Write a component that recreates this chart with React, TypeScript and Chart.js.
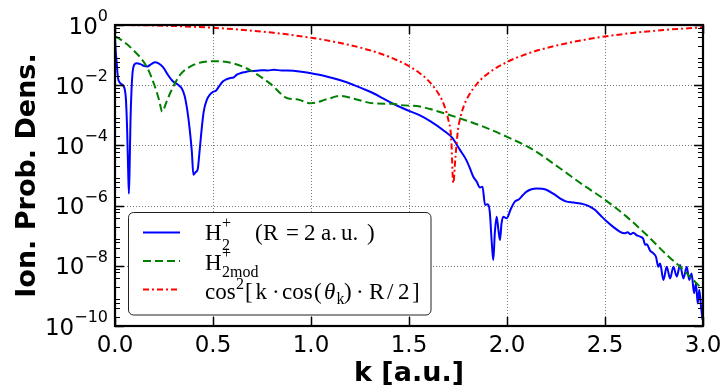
import React, { useEffect, useRef } from 'react';
import { Chart, registerables } from 'chart.js';

Chart.register(...registerables);

// ---- data ----
const kBlue = [
  0.000, 0.004, 0.008, 0.015, 0.025, 0.040, 0.050, 0.056, 0.062, 0.067,
  0.071, 0.075, 0.079, 0.084, 0.090, 0.098, 0.110, 0.130, 0.150, 0.165,
  0.185, 0.205, 0.220, 0.245, 0.270, 0.295, 0.320, 0.340, 0.355, 0.368,
  0.380, 0.392, 0.400, 0.412, 0.422, 0.430, 0.440, 0.452, 0.468, 0.485,
  0.500, 0.515, 0.530, 0.550, 0.570, 0.590, 0.605, 0.620, 0.640, 0.660,
  0.690, 0.720, 0.750, 0.780, 0.810, 0.850, 0.880, 0.920, 0.960, 1.000,
  1.060, 1.114, 1.170, 1.216, 1.270, 1.318, 1.370, 1.420, 1.454, 1.500,
  1.556, 1.610, 1.675, 1.720, 1.760, 1.790, 1.810, 1.828, 1.845, 1.862,
  1.875, 1.888, 1.900, 1.912, 1.922, 1.930, 1.938, 1.947, 1.956, 1.964,
  1.972, 1.981, 1.998, 2.020, 2.040, 2.060, 2.080, 2.100, 2.125, 2.152,
  2.180, 2.203, 2.240, 2.270, 2.300, 2.340, 2.389, 2.420, 2.450, 2.480,
  2.508, 2.540, 2.577, 2.600, 2.615, 2.630, 2.645, 2.660, 2.679, 2.695,
  2.705, 2.713, 2.730, 2.747, 2.760, 2.772, 2.781, 2.798, 2.815, 2.832,
  2.849, 2.866, 2.883, 2.900, 2.917, 2.930, 2.942, 2.954, 2.964, 2.973,
  2.981, 2.990, 2.998,
];
const pBlue = [
  0.40, 0.126, 0.063, 0.018, 0.012, 0.010, 0.0071, 0.0032, 3.2e-4, 1.6e-5,
  2.5e-6, 2.5e-5, 6.3e-4, 0.0063, 0.028, 0.048, 0.054, 0.050, 0.043, 0.042,
  0.050, 0.058, 0.054, 0.040, 0.022, 0.0135, 0.0105, 0.0079, 0.0045, 0.0016,
  4.0e-4, 6.3e-5, 1.05e-5, 1.3e-5, 1.6e-5, 5.0e-5, 2.5e-4, 0.00126, 0.0032, 0.005,
  0.006, 0.0066, 0.0089, 0.0132, 0.0158, 0.0174, 0.018, 0.022, 0.025, 0.027,
  0.0295, 0.030, 0.0316, 0.031, 0.0324, 0.031, 0.031, 0.0295, 0.0275, 0.025,
  0.021, 0.017, 0.0132, 0.0102, 0.0074, 0.0054, 0.00355, 0.0024, 0.0019, 0.0014,
  0.001, 6.3e-4, 3.2e-4, 1.8e-4, 7.1e-5, 3.5e-5, 1.8e-5, 9.1e-6, 6.3e-6, 4.0e-6,
  4.2e-6, 1.05e-6, 1.1e-6, 6.3e-7, 6.3e-8, 1.55e-8, 1.26e-7, 4.3e-7, 1.6e-7, 7.2e-8,
  2.5e-7, 4.3e-7, 3.8e-7, 7.9e-7, 1.35e-6, 1.6e-6, 2.2e-6, 2.9e-6, 3.5e-6, 3.7e-6,
  3.6e-6, 3.3e-6, 2.4e-6, 1.74e-6, 1.38e-6, 1.26e-6, 1.12e-6, 9.5e-7, 7.1e-7, 4.5e-7,
  3.0e-7, 2.0e-7, 1.35e-7, 1.2e-7, 1.3e-7, 1.12e-7, 1.26e-7, 1.05e-7, 9.3e-8, 7.9e-8,
  5.0e-8, 5.2e-8, 3.2e-8, 2.6e-8, 2.0e-8, 9.3e-9, 1.2e-8, 3.4e-9, 9.3e-9, 3.8e-9,
  9.3e-9, 4.4e-9, 1.07e-8, 3.8e-9, 9.3e-9, 3.4e-9, 5.6e-9, 1.23e-9, 2.6e-9, 5.6e-10,
  1.6e-9, 4.4e-10, 1.6e-10,
];

const kGreen = [
  0.000, 0.020, 0.093, 0.162, 0.204, 0.225, 0.241, 0.260, 0.281, 0.332,
  0.400, 0.450, 0.500, 0.600, 0.689, 0.790, 0.884, 0.927, 1.000, 1.080,
  1.148, 1.216, 1.318, 1.420, 1.454, 1.556, 1.624, 1.760, 1.879, 1.998,
  2.134, 2.270, 2.389, 2.490, 2.610, 2.713, 2.815, 2.883, 2.950, 3.000,
];
const pGreen = [
  0.42, 0.36, 0.148, 0.041, 0.0089, 0.0032, 0.00132, 0.0025, 0.0054, 0.022,
  0.047, 0.059, 0.063, 0.054, 0.0316, 0.0115, 0.0036, 0.0034, 0.0025, 0.0034,
  0.0044, 0.0036, 0.0025, 0.0024, 0.0022, 0.00195, 0.0015, 7.9e-4, 4.2e-4, 1.95e-4,
  7.1e-5, 1.74e-5, 4.8e-6, 1.74e-6, 4.3e-7, 1.05e-7, 2.3e-8, 9.3e-9, 3.4e-9, 1.6e-9,
];

const kRed = [
  0.0, 0.2, 0.4, 0.6, 0.8, 1.0, 1.1, 1.2, 1.3, 1.4,
  1.5, 1.55, 1.6, 1.65, 1.68, 1.70, 1.715, 1.726, 1.737, 1.75,
  1.76, 1.78, 1.8, 1.85, 1.9, 2.0, 2.1, 2.2, 2.4, 2.6,
  2.8, 3.0,
];
const pRed = [
  1.0, 0.967, 0.874, 0.731, 0.559, 0.378, 0.293, 0.214, 0.145, 0.087,
  0.043, 0.0264, 0.0139, 0.0053, 0.0021, 7.4e-4, 1.85e-4, 5.6e-6, 4.1e-5, 3.3e-4,
  7.4e-4, 2.06e-3, 4.0e-3, 0.0118, 0.0237, 0.059, 0.1087, 0.171, 0.327, 0.506,
  0.682, 0.835,
];

const xTickValues = [0, 0.5, 1.0, 1.5, 2.0, 2.5, 3.0];
const xTickLabels = ['0.0', '0.5', '1.0', '1.5', '2.0', '2.5', '3.0'];
const yTickExponents = [0, -2, -4, -6, -8, -10];
const yTickExpLabels = ['0', '\u22122', '\u22124', '\u22126', '\u22128', '\u221210'];
const yMinorMultipliers = [2, 4, 6, 8];

const xTitle = 'k [a.u.]';
const yTitle = 'Ion. Prob. Dens.';

const BLUE = '#0000ff';
const GREEN = '#008000';
const RED = '#ff0000';
const SERIF = '"Liberation Serif", "DejaVu Serif", serif';
const SANS = '"DejaVu Sans", sans-serif';

type Piece = { t: string; x: number; y: number; s: number; it?: boolean };

const legendRows: { color: string; dash: number[]; y: number; pieces: Piece[] }[] = [
  {
    color: BLUE, dash: [], y: 232.5,
    pieces: [
      { t: 'H', x: 205, y: 239.5, s: 23 },
      { t: '2', x: 222, y: 250, s: 16 },
      { t: '+', x: 222, y: 228, s: 16 },
      { t: '(', x: 255, y: 239.5, s: 23 },
      { t: 'R', x: 263, y: 239.5, s: 23 },
      { t: '=', x: 286, y: 239.5, s: 23 },
      { t: '2', x: 304, y: 239.5, s: 23 },
      { t: 'a.', x: 321, y: 239.5, s: 23 },
      { t: 'u.', x: 341, y: 239.5, s: 23 },
      { t: ')', x: 367, y: 239.5, s: 23 },
    ],
  },
  {
    color: GREEN, dash: [8, 4], y: 261,
    pieces: [
      { t: 'H', x: 205, y: 269.5, s: 23 },
      { t: '2mod', x: 222, y: 277, s: 16 },
      { t: '+', x: 222, y: 258, s: 16 },
    ],
  },
  {
    color: RED, dash: [6, 3, 2, 3], y: 289.5,
    pieces: [
      { t: 'cos', x: 205, y: 299, s: 23 },
      { t: '2', x: 236, y: 289, s: 16 },
      { t: '[', x: 245, y: 299, s: 23 },
      { t: 'k', x: 255.5, y: 299, s: 23 },
      { t: '\u00b7', x: 272, y: 299, s: 23 },
      { t: 'cos', x: 282, y: 299, s: 23 },
      { t: '(', x: 314, y: 299, s: 23 },
      { t: '\u03b8', x: 324, y: 299, s: 23, it: true },
      { t: 'k', x: 336.5, y: 304, s: 16 },
      { t: ')', x: 344, y: 299, s: 23 },
      { t: '\u00b7', x: 356, y: 299, s: 23 },
      { t: 'R', x: 369, y: 299, s: 23 },
      { t: '/', x: 387, y: 299, s: 23 },
      { t: '2', x: 398, y: 299, s: 23 },
      { t: ']', x: 412, y: 299, s: 23 },
    ],
  },
];

const decoPlugin = {
  id: 'deco',
  beforeDatasetsDraw(chart: any) {
    const { ctx, chartArea: a, scales } = chart;
    const xs = scales.x;
    const ys = scales.y;
    ctx.save();
    ctx.strokeStyle = '#7a7a7a';
    ctx.lineWidth = 1;
    ctx.setLineDash([1, 2]);
    for (const v of xTickValues) {
      if (v <= 0 || v >= 3) continue;
      const px = Math.round(xs.getPixelForValue(v)) + 0.5;
      ctx.beginPath();
      ctx.moveTo(px, a.top);
      ctx.lineTo(px, a.bottom);
      ctx.stroke();
    }
    for (const e of yTickExponents) {
      if (e === 0 || e === -10) continue;
      const py = Math.round(ys.getPixelForValue(Math.pow(10, e))) + 0.5;
      ctx.beginPath();
      ctx.moveTo(a.left, py);
      ctx.lineTo(a.right, py);
      ctx.stroke();
    }
    ctx.restore();
  },
  afterDatasetsDraw(chart: any) {
    const { ctx, chartArea: a, scales } = chart;
    const xs = scales.x;
    const ys = scales.y;
    ctx.save();
    ctx.setLineDash([]);
    ctx.strokeStyle = '#000';

    // minor y ticks
    ctx.lineWidth = 1;
    for (let e = -10; e < 0; e++) {
      for (const m of yMinorMultipliers) {
        const py = Math.round(ys.getPixelForValue(m * Math.pow(10, e))) + 0.5;
        ctx.beginPath();
        ctx.moveTo(a.left, py);
        ctx.lineTo(a.left + 5, py);
        ctx.moveTo(a.right, py);
        ctx.lineTo(a.right - 5, py);
        ctx.stroke();
      }
    }
    // major y ticks
    ctx.lineWidth = 1.5;
    for (const e of yTickExponents) {
      const py = Math.round(ys.getPixelForValue(Math.pow(10, e))) + 0.5;
      ctx.beginPath();
      ctx.moveTo(a.left, py);
      ctx.lineTo(a.left + 9, py);
      ctx.moveTo(a.right, py);
      ctx.lineTo(a.right - 9, py);
      ctx.stroke();
    }
    // major x ticks
    for (const v of xTickValues) {
      const px = Math.round(xs.getPixelForValue(v)) + 0.5;
      ctx.beginPath();
      ctx.moveTo(px, a.bottom);
      ctx.lineTo(px, a.bottom - 9);
      ctx.moveTo(px, a.top);
      ctx.lineTo(px, a.top + 9);
      ctx.stroke();
    }
    // frame
    ctx.lineWidth = 2.2;
    ctx.strokeRect(a.left, a.top, a.right - a.left, a.bottom - a.top);

    // x tick labels
    ctx.fillStyle = '#000';
    ctx.font = `23px ${SANS}`;
    ctx.textAlign = 'center';
    ctx.textBaseline = 'alphabetic';
    xTickValues.forEach((v, i) => {
      ctx.fillText(xTickLabels[i], xs.getPixelForValue(v), a.bottom + 26);
    });
    // y tick labels 10^e
    yTickExponents.forEach((e, i) => {
      const py = ys.getPixelForValue(Math.pow(10, e));
      const right = 108;
      ctx.textAlign = 'left';
      ctx.font = `16px ${SANS}`;
      const wSup = ctx.measureText(yTickExpLabels[i]).width;
      ctx.font = `23px ${SANS}`;
      const wBase = ctx.measureText('10').width;
      const x0 = right - wSup - wBase;
      ctx.fillText('10', x0, py + 8.5);
      ctx.font = `16px ${SANS}`;
      ctx.fillText(yTickExpLabels[i], x0 + wBase, py - 4);
    });

    // axis titles
    ctx.font = `bold 27px ${SANS}`;
    ctx.textAlign = 'center';
    ctx.fillText(xTitle, (a.left + a.right) / 2, 381);
    ctx.save();
    ctx.translate(35, 175.5);
    ctx.rotate(-Math.PI / 2);
    ctx.font = `bold 27px ${SANS}`;
    ctx.fillText(yTitle, 0, 0);
    ctx.restore();

    // legend
    const lx = 128.5, ly = 212.5, lw = 302.5, lh = 102.5, r = 5;
    ctx.beginPath();
    ctx.moveTo(lx + r, ly);
    ctx.lineTo(lx + lw - r, ly);
    ctx.arcTo(lx + lw, ly, lx + lw, ly + r, r);
    ctx.lineTo(lx + lw, ly + lh - r);
    ctx.arcTo(lx + lw, ly + lh, lx + lw - r, ly + lh, r);
    ctx.lineTo(lx + r, ly + lh);
    ctx.arcTo(lx, ly + lh, lx, ly + lh - r, r);
    ctx.lineTo(lx, ly + r);
    ctx.arcTo(lx, ly, lx + r, ly, r);
    ctx.closePath();
    ctx.fillStyle = '#fff';
    ctx.fill();
    ctx.lineWidth = 1;
    ctx.strokeStyle = '#222';
    ctx.stroke();

    ctx.textAlign = 'left';
    for (const row of legendRows) {
      ctx.beginPath();
      ctx.setLineDash(row.dash);
      ctx.strokeStyle = row.color;
      ctx.lineWidth = 2;
      ctx.moveTo(143, row.y);
      ctx.lineTo(180, row.y);
      ctx.stroke();
      ctx.setLineDash([]);
      ctx.fillStyle = '#000';
      for (const p of row.pieces) {
        ctx.font = `${p.it ? 'italic ' : ''}${p.s}px ${SERIF}`;
        ctx.fillText(p.t, p.x, p.y);
      }
    }
    ctx.restore();
  },
};

export default function App() {
  const ref = useRef<HTMLCanvasElement>(null);
  useEffect(() => {
    document.body.style.margin = '0';
    const canvas = ref.current!;
    const chart = new Chart(canvas, {
      type: 'line',
      data: {
        datasets: [
          {
            label: 'H2+ (R = 2 a.u.)',
            data: kBlue.map((k, i) => ({ x: k, y: pBlue[i] })),
            borderColor: BLUE,
            borderWidth: 2,
            pointRadius: 0,
            cubicInterpolationMode: 'monotone',
            fill: false,
            order: 3,
          },
          {
            label: 'H2mod+',
            data: kGreen.map((k, i) => ({ x: k, y: pGreen[i] })),
            borderColor: GREEN,
            borderWidth: 2,
            borderDash: [8, 4],
            pointRadius: 0,
            cubicInterpolationMode: 'monotone',
            fill: false,
            order: 2,
          },
          {
            label: 'cos2[k cos(theta_k) R/2]',
            data: kRed.map((k, i) => ({ x: k, y: pRed[i] })),
            borderColor: RED,
            borderWidth: 2,
            borderDash: [6, 3, 2, 3],
            pointRadius: 0,
            cubicInterpolationMode: 'monotone',
            fill: false,
            order: 1,
          },
        ],
      },
      options: {
        animation: false,
        responsive: false,
        events: [],
        layout: { padding: { left: 115, top: 25, right: 21, bottom: 62 } },
        plugins: { legend: { display: false }, tooltip: { enabled: false } },
        scales: {
          x: { type: 'linear', min: 0, max: 3, display: false },
          y: { type: 'logarithmic', min: 1e-10, max: 1, display: false },
        },
      },
      plugins: [decoPlugin],
    } as any);
    return () => chart.destroy();
  }, []);
  return (
    <div style={{ width: 724, height: 388 }}>
      <canvas ref={ref} width={724} height={388} style={{ display: 'block', width: 724, height: 388 }} />
    </div>
  );
}
